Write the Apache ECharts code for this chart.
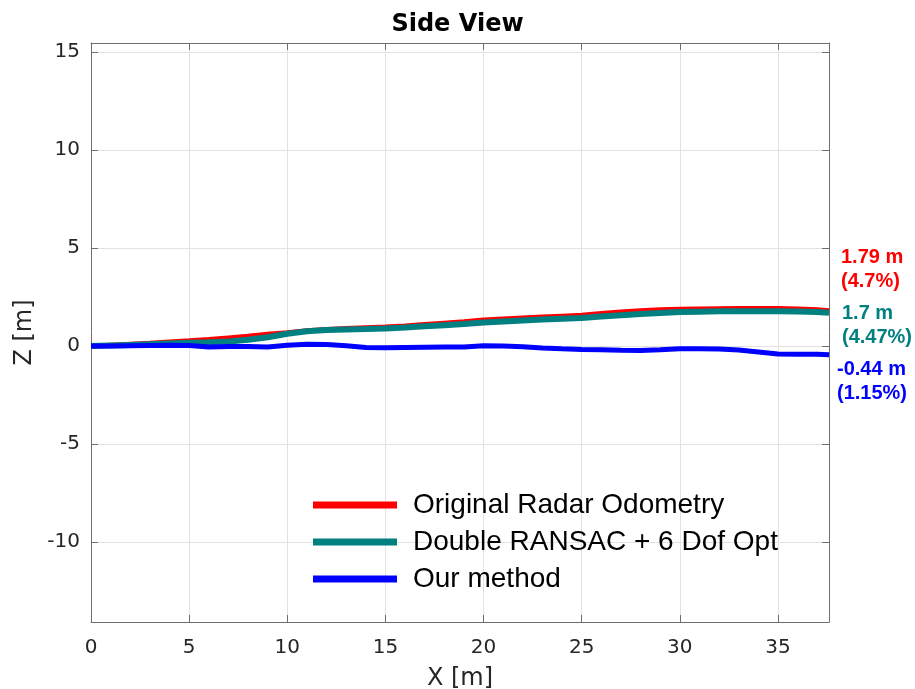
<!DOCTYPE html>
<html>
<head>
<meta charset="utf-8">
<script src="https://cdn.jsdelivr.net/npm/echarts@6/dist/echarts.min.js"></script>
<style>
html,body{margin:0;padding:0;background:#fff;}
#chart{width:915px;height:689px;}
</style>
</head>
<body>
<div id="chart"></div>
<script>
const xValues = [0,1,2,3,4,5,6,7,8,9,10,11,12,13,14,15,16,17,18,19,20,21,22,23,24,25,26,27,28,29,30,31,32,33,34,35,36,37,37.6];
const originalRadar = [0,0.05,0.1,0.15,0.21,0.27,0.34,0.42,0.5,0.6,0.68,0.78,0.85,0.9,0.94,0.98,1.03,1.1,1.17,1.24,1.33,1.38,1.43,1.48,1.53,1.58,1.66,1.74,1.8,1.85,1.88,1.9,1.91,1.92,1.92,1.92,1.9,1.86,1.8];
const doubleRansac = [0,0.03,0.06,0.09,0.13,0.17,0.2,0.24,0.32,0.45,0.63,0.76,0.82,0.85,0.87,0.9,0.95,1.01,1.07,1.13,1.21,1.26,1.31,1.36,1.4,1.44,1.51,1.58,1.64,1.69,1.74,1.76,1.78,1.78,1.78,1.78,1.77,1.74,1.7];
const ourMethod = [0,0,0.02,0.03,0.04,0.03,-0.04,-0.02,-0.02,-0.04,0.05,0.09,0.08,0.02,-0.07,-0.08,-0.07,-0.06,-0.05,-0.04,0.02,0,-0.03,-0.1,-0.14,-0.17,-0.19,-0.21,-0.22,-0.19,-0.14,-0.13,-0.15,-0.2,-0.3,-0.4,-0.41,-0.42,-0.44];
const seriesNames = ['Original Radar Odometry','Double RANSAC + 6 Dof Opt','Our method'];
const endNotes = [['1.79 m','(4.7%)'],['1.7 m','(4.47%)'],['-0.44 m','(1.15%)']];
const xRange = [0, 37.6];
const yRange = [-14.08, 15.47];

const colors = ['#ff0000','#008080','#0000ff'];
const widths = [5, 6, 5];
const allData = [originalRadar, doubleRansac, ourMethod];

const chart = echarts.init(document.getElementById('chart'));
const axisColor = '#6e6e6e';
const labelColor = '#262626';
const tickFont = 'DejaVu Sans';

function pairs(ys){ return xValues.map((x,i)=>[x, ys[i]]); }

const notePos = [[841,258,282],[842,314,338],[837,370,394]];
const graphics = [];
endNotes.forEach((n,i)=>{
  graphics.push({type:'text', left:notePos[i][0], top:notePos[i][1]-11, style:{text:n[0], fill:colors[i], font:'bold 20px "Liberation Sans", Arial, sans-serif'}});
  graphics.push({type:'text', left:notePos[i][0], top:notePos[i][2]-11, style:{text:n[1], fill:colors[i], font:'bold 20px "Liberation Sans", Arial, sans-serif'}});
});

const mirrorAxisCommon = {
  axisLine:{show:true, onZero:false, lineStyle:{color:axisColor, width:1}},
  axisTick:{show:true, inside:true, length:7, lineStyle:{color:axisColor}},
  axisLabel:{show:false}, splitLine:{show:false}
};

chart.setOption({
  animation:false,
  backgroundColor:'#ffffff',
  title:{
    text:'Side View', left:'center', top:8,
    textStyle:{fontFamily:'DejaVu Sans', fontWeight:'bold', fontSize:24, color:'#000'}
  },
  grid:{left:91, right:86, top:43, bottom:67, containLabel:false, outerBoundsMode:'none'},
  legend:{
    orient:'vertical', left:313, top:490, padding:0,
    icon:'rect', itemWidth:84, itemHeight:7, itemGap:7,
    textStyle:{fontFamily:'"Liberation Sans", Arial, sans-serif', fontSize:28, color:'#000', lineHeight:30, padding:[0,0,0,11]},
    data:seriesNames
  },
  xAxis:[{
    type:'value', min:xRange[0], max:xRange[1], splitNumber:8,
    name:'X [m]', nameLocation:'middle', nameGap:45,
    nameTextStyle:{fontFamily:tickFont, fontSize:24, color:labelColor},
    axisLine:{show:true, onZero:false, lineStyle:{color:axisColor, width:1}},
    axisTick:{show:true, inside:true, length:7, lineStyle:{color:axisColor}},
    axisLabel:{fontFamily:tickFont, fontSize:20, color:labelColor, margin:16, showMaxLabel:false},
    splitLine:{show:true, lineStyle:{color:'#e2e2e2', width:1}}
  }, Object.assign({type:'value', position:'top', min:xRange[0], max:xRange[1], splitNumber:8}, mirrorAxisCommon)],
  yAxis:[{
    type:'value', min:yRange[0], max:yRange[1], splitNumber:6,
    name:'Z [m]', nameLocation:'middle', nameGap:49,
    nameTextStyle:{fontFamily:tickFont, fontSize:24, color:labelColor},
    axisLine:{show:true, onZero:false, lineStyle:{color:axisColor, width:1}},
    axisTick:{show:true, inside:true, length:7, lineStyle:{color:axisColor}},
    axisLabel:{fontFamily:tickFont, fontSize:20, color:labelColor, margin:11, showMinLabel:false, showMaxLabel:false},
    splitLine:{show:true, lineStyle:{color:'#e2e2e2', width:1}}
  }, Object.assign({type:'value', position:'right', min:yRange[0], max:yRange[1], splitNumber:6}, mirrorAxisCommon)],
  graphic:graphics,
  series: seriesNames.map((name,i)=>({
    name:name, type:'line', data:pairs(allData[i]),
    showSymbol:false, symbol:'none', smooth:false,
    color:colors[i],
    lineStyle:{color:colors[i], width:widths[i]},
    itemStyle:{color:colors[i]},
    z:2+i
  }))
});
</script>
</body>
</html>
